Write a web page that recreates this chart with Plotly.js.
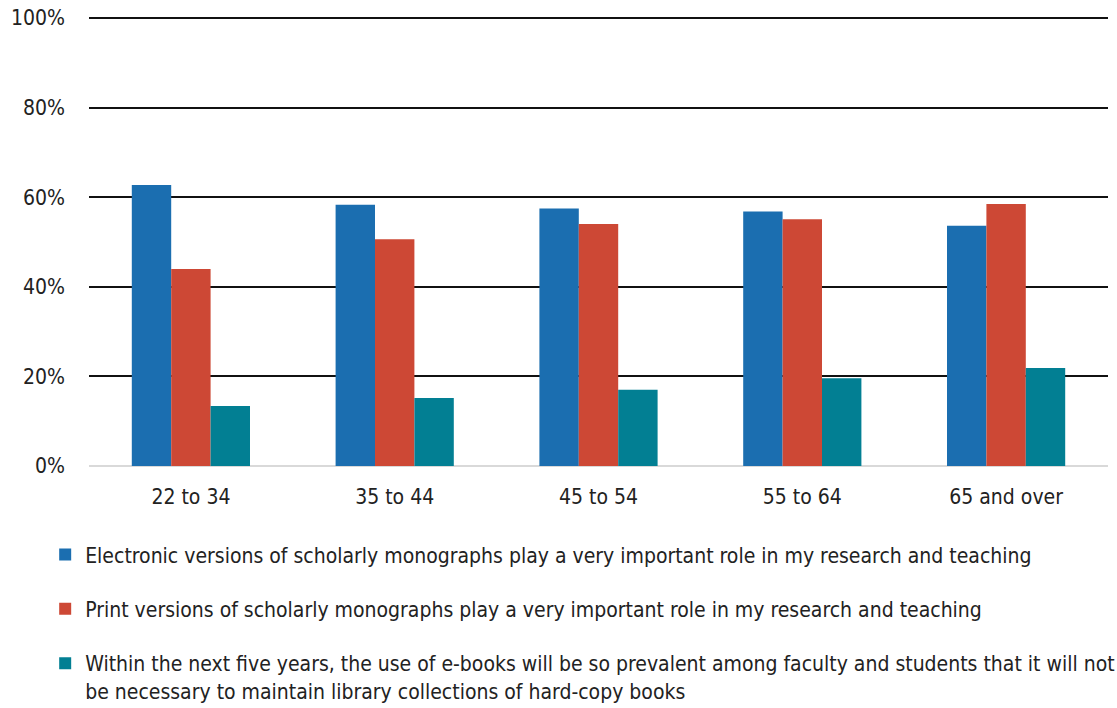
<!DOCTYPE html>
<html>
<head>
<meta charset="utf-8">
<script src="https://cdn.plot.ly/plotly-3.0.1.min.js"></script>
<style>html,body{margin:0;padding:0;background:#fff;}#chart{width:1117px;height:708px;}</style>
</head>
<body>
<div id="chart"></div>
<script>
const categories = ["22 to 34", "35 to 44", "45 to 54", "55 to 64", "65 and over"];
const electronic = [62.7, 58.3, 57.5, 56.8, 53.6];
const print = [44.0, 50.6, 54.0, 55.1, 58.5];
const ebooksPrevalent = [13.4, 15.2, 17.0, 19.6, 21.9];
const seriesNames = [
  "Electronic versions of scholarly monographs play a very important role in my research and teaching",
  "Print versions of scholarly monographs play a very important role in my research and teaching",
  "Within the next five years, the use of e-books will be so prevalent among faculty and students that it will not<br>be necessary to maintain library collections of hard-copy books"
];
const yTickVals = [0, 20, 40, 60, 80, 100];
const yTickText = ["0%", "20%", "40%", "60%", "80%", "100%"];

const colors = ["#1b6eb0", "#cd4835", "#027f93"];
const FONT = '"Liberation Sans Narrow", "Arial Narrow", "DejaVu Sans Condensed", sans-serif';
const FS = 21;

const seriesValues = [electronic, print, ebooksPrevalent];
const traces = seriesValues.map((vals, i) => ({
  type: "bar",
  x: categories,
  y: vals,
  name: seriesNames[i],
  legendgroup: "g" + i,
  marker: {color: colors[i], line: {width: 0}},
  hoverinfo: "x+y"
}));

const layout = {
  width: 1117,
  height: 708,
  margin: {l: 89, r: 9, t: 16, b: 242, autoexpand: false},
  paper_bgcolor: "#ffffff",
  plot_bgcolor: "#ffffff",
  font: {family: FONT, size: FS, color: "#222222"},
  barmode: "group",
  bargap: 0.42,
  bargroupgap: 0,
  showlegend: true,
  legend: {
    x: -0.043, xanchor: "left",
    y: -0.152, yanchor: "top",
    orientation: "v",
    traceorder: "grouped",
    tracegroupgap: 24,
    valign: "top",
    font: {family: FONT, size: FS, color: "#222222"},
    bgcolor: "rgba(0,0,0,0)"
  },
  xaxis: {
    type: "category",
    showgrid: false,
    showline: false,
    zeroline: false,
    ticks: "",
    tickfont: {family: FONT, size: FS, color: "#222222"},
    ticklabelstandoff: 16
  },
  yaxis: {
    range: [0, 100.4464],
    tickvals: yTickVals,
    ticktext: yTickText,
    showgrid: true,
    gridcolor: "#111111",
    gridwidth: 2,
    zeroline: true,
    zerolinecolor: "#d9d9d9",
    zerolinewidth: 2,
    showline: false,
    ticks: "",
    tickfont: {family: FONT, size: FS, color: "#222222"},
    ticklabelstandoff: 23
  }
};

Plotly.newPlot("chart", traces, layout, {displayModeBar: false, staticPlot: true});
</script>
</body>
</html>
